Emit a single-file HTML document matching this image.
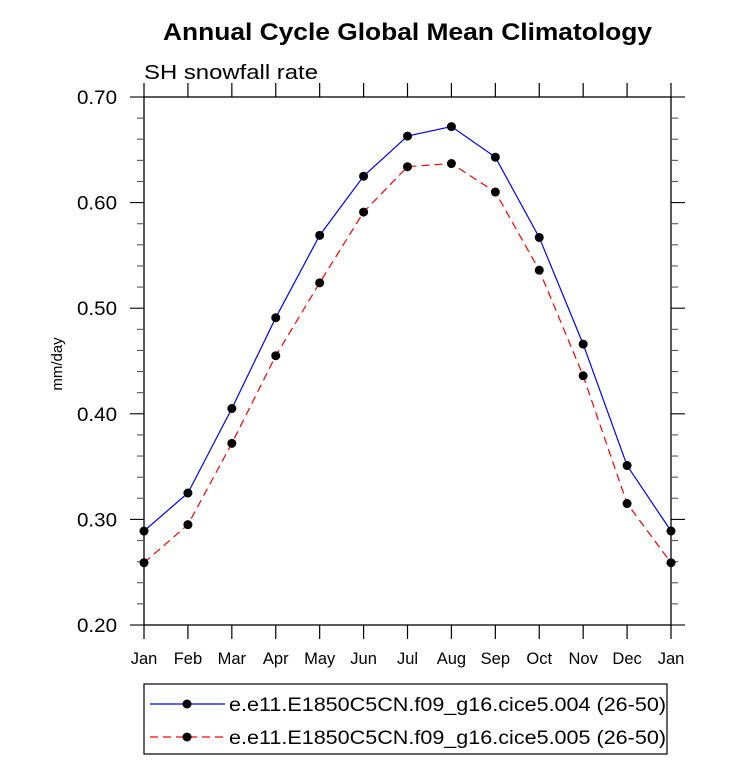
<!DOCTYPE html>
<html><head><meta charset="utf-8"><style>body{margin:0;background:#fff}svg{display:block;font-family:"Liberation Sans",Arial,sans-serif}</style></head>
<body>
<svg id="c" width="733" height="761">
<text x="163" y="40" font-size="24" font-weight="bold" textLength="489" lengthAdjust="spacingAndGlyphs">Annual Cycle Global Mean Climatology</text>
<text x="144" y="79" font-size="20" textLength="174" lengthAdjust="spacingAndGlyphs">SH snowfall rate</text>
<text transform="translate(62,364) rotate(-90)" text-anchor="middle" font-size="15">mm/day</text>
<g id="axes"></g><g id="series"></g>
<g>
<rect x="144" y="684" width="523" height="70" fill="none" stroke="#000" stroke-width="1.2"/>
<line x1="150" y1="704" x2="225" y2="704" stroke="#00f" stroke-width="1.2"/><circle cx="187" cy="704" r="4.5"/>
<text x="229" y="711" font-size="19" textLength="437" lengthAdjust="spacingAndGlyphs">e.e11.E1850C5CN.f09_g16.cice5.004 (26-50)</text>
<line x1="150" y1="737" x2="225" y2="737" stroke="#f00" stroke-width="1.2" stroke-dasharray="8,5"/><circle cx="187" cy="737" r="4.5"/>
<text x="229" y="744" font-size="19" textLength="437" lengthAdjust="spacingAndGlyphs">e.e11.E1850C5CN.f09_g16.cice5.005 (26-50)</text>
</g>
</svg>
<script>
const months=["Jan","Feb","Mar","Apr","May","Jun","Jul","Aug","Sep","Oct","Nov","Dec","Jan"];
const s004=[0.289,0.325,0.405,0.491,0.569,0.625,0.663,0.672,0.643,0.567,0.466,0.351,0.289];
const s005=[0.259,0.295,0.372,0.455,0.524,0.591,0.634,0.637,0.610,0.536,0.436,0.315,0.259];
const yTicks=["0.20","0.30","0.40","0.50","0.60","0.70"];
const NS="http://www.w3.org/2000/svg";
const L=144,R=671,T=97,B=625,ymin=0.2,ymax=0.7;
const xs=i=>L+(R-L)*i/(months.length-1);
const ys=v=>B-(v-ymin)/(ymax-ymin)*(B-T);
function mk(t,a,p){const e=document.createElementNS(NS,t);for(const k in a)e.setAttribute(k,a[k]);p.appendChild(e);return e;}
const ax=document.getElementById('axes');
const fr=mk('rect',{x:L,y:T,width:R-L,height:B-T,fill:'none',stroke:'#000','stroke-width':1.3},ax);


months.forEach((m,i)=>{const x=xs(i);
mk('line',{x1:x,y1:B,x2:x,y2:B+14,stroke:'#000','stroke-width':1.2},ax);
mk('line',{x1:x,y1:T,x2:x,y2:T-14,stroke:'#000','stroke-width':1.2},ax);
const t=mk('text',{x:x,y:B+39,'text-anchor':'middle','font-size':16.5},ax);t.textContent=m;

});
for(let v=0.2;v<=0.7001;v+=0.02){const y=ys(v);const maj=Math.abs((v*10)-Math.round(v*10))<1e-6;const len=maj?14:7;const col=maj?'#000':'#555';
mk('line',{x1:L,y1:y,x2:L-len,y2:y,stroke:col,'stroke-width':1.1},ax);
mk('line',{x1:R,y1:y,x2:R+len,y2:y,stroke:col,'stroke-width':1.1},ax);}
yTicks.forEach(s=>{const t=mk('text',{x:77,y:ys(+s)+7,'font-size':19,textLength:40,lengthAdjust:'spacingAndGlyphs'},ax);t.textContent=s;

});
const sg=document.getElementById('series');
[[s004,'#00f',null,'series-004'],[s005,'#f00','8,5','series-005']].forEach(([d,c,dash,n])=>{
const g=mk('g',{},sg);
const a={points:d.map((v,i)=>xs(i)+','+ys(v)).join(' '),fill:'none',stroke:c,'stroke-width':1.2};if(dash)a['stroke-dasharray']=dash;
mk('polyline',a,g);
d.forEach((v,i)=>{const p=mk('circle',{cx:xs(i),cy:ys(v),r:4.5},g);

});});
</script>
</body></html>
